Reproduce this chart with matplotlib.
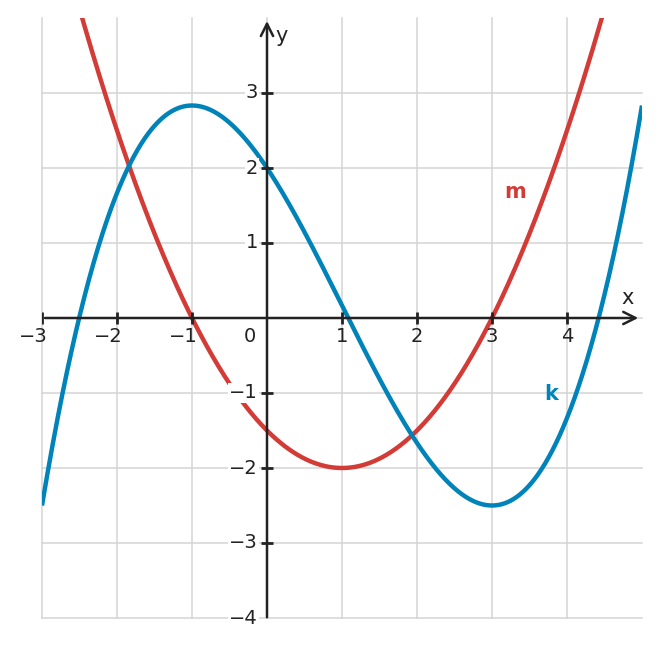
import numpy as np
import matplotlib
matplotlib.use("Agg")
import matplotlib.pyplot as plt

# Data: polynomial coefficients (highest power first)
m_coeffs = [0.5, -1.0, -1.5]            # m(x) = 0.5x^2 - x - 1.5
k_coeffs = [1/6, -0.5, -1.5, 2.0]       # k(x) = x^3/6 - x^2/2 - 1.5x + 2
x_ticks = [-3, -2, -1, 1, 2, 3, 4]
y_ticks = [-3, -2, -1, 1, 2, 3]
y_label_ticks = [-4, -3, -2, -1, 1, 2, 3]
x_grid = [-3, -2, -1, 0, 1, 2, 3, 4]
y_grid = [-4, -3, -2, -1, 0, 1, 2, 3]
xlim = (-3, 5)
ylim = (-4, 4)

red = "#d33b36"
blue = "#0083b9"
dark = "#222222"
grid_c = "#d4d4d4"

W, H = 661, 648
fig = plt.figure(figsize=(W/100, H/100), dpi=100)
ax = fig.add_axes([42/W, (H-618)/H, 600/W, 600/H])
ax.set_xlim(*xlim)
ax.set_ylim(*ylim)
ax.axis("off")

for gx in x_grid:
    ax.plot([gx, gx], [ylim[0], ylim[1]], color=grid_c, lw=1.1, zorder=1, clip_on=False)
for gy in y_grid:
    ax.plot([xlim[0], xlim[1]], [gy, gy], color=grid_c, lw=1.1, zorder=1, clip_on=False)

xs = np.linspace(xlim[0], xlim[1], 800)
ax.plot(xs, np.polyval(m_coeffs, xs), color=red, lw=3.2, zorder=3, solid_capstyle="butt")
ax.plot(xs, np.polyval(k_coeffs, xs), color=blue, lw=3.2, zorder=3, solid_capstyle="butt")

# axes with arrows
ax.annotate("", xy=(4.95, 0), xytext=(-2.96, 0),
            arrowprops=dict(arrowstyle="->", lw=1.8, color=dark, mutation_scale=22,
                            shrinkA=0, shrinkB=0), zorder=4)
ax.annotate("", xy=(0, 3.96), xytext=(0, -3.99),
            arrowprops=dict(arrowstyle="->", lw=1.8, color=dark, mutation_scale=22,
                            shrinkA=0, shrinkB=0), zorder=4)

# tick marks
ax.plot(x_ticks, [0]*len(x_ticks), linestyle="none", marker="|", ms=9, mew=2.0, color=dark, zorder=5)
ax.plot([0]*len(y_ticks), y_ticks, linestyle="none", marker="_", ms=9, mew=2.0, color=dark, zorder=5)

fs = 14
for t in x_ticks:
    off = -9 if t < 0 else 0
    ax.annotate(str(t).replace("-", "\u2212"), xy=(t, 0), xytext=(off, -19),
                textcoords="offset pixels", ha="center", va="center",
                fontsize=fs, color=dark, zorder=6)
ax.annotate("0", xy=(0, 0), xytext=(-17, -19), textcoords="offset pixels",
            ha="center", va="center", fontsize=fs, color=dark, zorder=6)
for t in y_label_ticks:
    ax.annotate(str(t).replace("-", "\u2212"), xy=(0, t), xytext=(-9, 0),
                textcoords="offset pixels", ha="right", va="center",
                fontsize=fs, color=dark, zorder=6,
                bbox=dict(boxstyle="square,pad=0.05", fc="white", ec="none"))

ax.text(4.81, 0.26, "x", fontsize=fs+1, color=dark, ha="center", va="center", zorder=6)
ax.text(0.2, 3.76, "y", fontsize=fs+1, color=dark, ha="center", va="center", zorder=6)
ax.text(3.31, 1.68, "m", fontsize=fs+1, color=red, fontweight="bold", ha="center", va="center", zorder=6)
ax.text(3.79, -1.01, "k", fontsize=fs+1, color=blue, fontweight="bold", ha="center", va="center", zorder=6)

fig.savefig("out.png", dpi=100, facecolor="white")
